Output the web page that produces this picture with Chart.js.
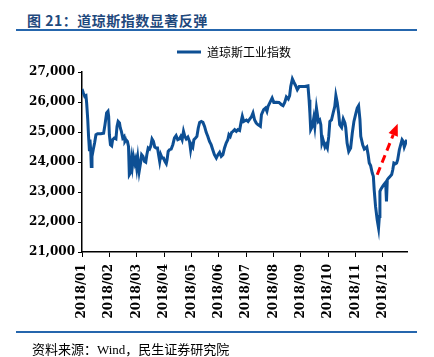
<!DOCTYPE html>
<html><head><meta charset="utf-8">
<script src="https://cdn.jsdelivr.net/npm/chart.js@4.4.1/dist/chart.umd.min.js"></script>
<style>
html,body{margin:0;padding:0;background:#fff;width:434px;height:357px;overflow:hidden;}
#c{position:absolute;left:0;top:0;}
.title{position:absolute;left:27px;top:10px;font:bold 14px "Noto Sans CJK SC",sans-serif;color:#1f497d;letter-spacing:0.5px;white-space:nowrap;}
.rule{position:absolute;left:16px;width:401px;height:2px;background:#2566ad;}
.src{position:absolute;left:32px;top:339px;font:13px "Liberation Serif","Noto Sans CJK SC",serif;color:#000;white-space:nowrap;}
</style></head>
<body>
<div class="title">图 21：道琼斯指数显著反弹</div>
<div class="rule" style="top:29px"></div>
<canvas id="c" width="434" height="357"></canvas>
<div class="rule" style="top:331px"></div>
<div class="src">资料来源：Wind，民生证券研究院</div>
<script>
const seriesName = '道琼斯工业指数';
const monthLabels = ['2018/01','2018/02','2018/03','2018/04','2018/05','2018/06','2018/07','2018/08','2018/09','2018/10','2018/11','2018/12'];
const monthTicks = [0,1,2,3,4,5,6,7,8,9,10,11];
const yTicks = [21000,22000,23000,24000,25000,26000,27000];
const monthPos = [0.00,0.05,0.10,0.145,0.17,0.21,0.24,0.27,0.29,0.32,0.34,0.365,0.41,0.46,0.51,0.57,0.69,0.79,0.84,0.90,0.95,0.975,1.00,1.04,1.085,1.12,1.18,1.24,1.28,1.32,1.37,1.40,1.44,1.49,1.54,1.57,1.61,1.66,1.70,1.73,1.77,1.81,1.84,1.88,1.93,1.96,2.00,2.04,2.09,2.14,2.18,2.23,2.28,2.33,2.37,2.42,2.47,2.51,2.56,2.61,2.66,2.71,2.76,2.81,2.84,2.88,2.93,2.98,3.03,3.08,3.11,3.15,3.20,3.26,3.32,3.38,3.44,3.50,3.56,3.61,3.66,3.71,3.76,3.81,3.87,3.93,3.97,4.00,4.05,4.09,4.15,4.20,4.25,4.30,4.36,4.42,4.48,4.54,4.60,4.66,4.72,4.78,4.84,4.91,4.97,5.03,5.09,5.15,5.21,5.27,5.33,5.37,5.42,5.47,5.52,5.58,5.64,5.70,5.76,5.82,5.86,5.91,6.01,6.07,6.13,6.19,6.25,6.31,6.37,6.43,6.52,6.56,6.64,6.71,6.76,6.80,6.89,6.95,7.01,7.10,7.20,7.29,7.35,7.41,7.47,7.54,7.59,7.63,7.69,7.75,7.81,7.87,7.94,8.02,8.14,8.26,8.30,8.33,8.36,8.42,8.47,8.51,8.57,8.61,8.64,8.69,8.73,8.77,8.81,8.88,8.92,8.97,9.02,9.06,9.12,9.18,9.24,9.28,9.33,9.38,9.42,9.49,9.55,9.61,9.64,9.69,9.75,9.82,9.88,9.94,10.00,10.06,10.11,10.16,10.19,10.26,10.32,10.37,10.41,10.46,10.50,10.55,10.61,10.65,10.68,10.73,10.79,10.84,10.87,10.89,10.93,10.99,11.04,11.10,11.13,11.16,11.21,11.26,11.32,11.36,11.40,11.46,11.50,11.54,11.60,11.65,11.70,11.74,11.78,11.82,11.87];
const dowValues = [26433,26300,26187,26210,25967,25410,24853,24410,24743,24353,23853,24187,24410,24633,24910,24943,24943,24960,25243,25633,25687,25520,24910,24577,24540,24743,24800,24770,25187,25353,25300,25133,25020,24800,24850,24687,24743,24687,24520,23577,23640,24077,23853,24187,23970,24077,23800,24130,23687,23967,24243,24187,24020,23990,24243,24467,24430,24520,24767,24690,24500,24467,24467,24187,24020,24243,24130,24130,24020,23943,24077,24353,24410,24430,24577,24800,24877,24743,24770,24853,24743,25020,24853,24770,24830,24687,24410,24577,24500,24743,24800,24853,25133,25320,25353,25320,25187,24987,24853,24687,24577,24410,24243,24130,24243,24320,24187,24243,24467,24633,24743,24910,24853,24987,25020,25077,25020,25077,25050,25353,25520,25350,25400,25350,25430,25500,25633,25400,25300,25243,25187,25577,25743,25800,25690,25853,26020,26130,25987,25990,25987,25910,25880,25987,26167,26100,26210,26520,26767,26650,26543,26410,26520,26520,26520,26540,26077,25633,25077,25187,25463,25187,25800,25550,25353,25400,25243,24633,24743,24500,24577,24467,24853,25353,25400,25633,25853,26210,25980,25633,25243,25150,25433,25300,25150,24633,24353,24467,24967,25353,25577,25800,25877,25410,24853,24577,24433,24467,24500,24243,23967,23880,23633,23520,23077,22520,22077,21800,22187,23020,23100,23187,23250,23320,22687,23410,23470,23520,23580,23743,23967,23940,23967,24077,24410,24577,24743,24690,24500,24600,24743];
const arrowFrom = [10.79, 23577];
const arrowTo = [11.54, 25277];

const BLUE = '#0d4f94';
const points = monthPos.map((m,i)=>({x:m,y:dowValues[i]}));

const arrowPlugin = {
  id:'arrow',
  afterDatasetsDraw(chart){
    const {ctx, scales:{x,y}} = chart;
    const x0=x.getPixelForValue(arrowFrom[0]), y0=y.getPixelForValue(arrowFrom[1]);
    const x1=x.getPixelForValue(arrowTo[0]), y1=y.getPixelForValue(arrowTo[1]);
    const ang=Math.atan2(y1-y0,x1-x0);
    const headLen=12, headW=5;
    const bx=x1-Math.cos(ang)*headLen, by=y1-Math.sin(ang)*headLen;
    ctx.save();
    ctx.strokeStyle='#ff0000';ctx.fillStyle='#ff0000';
    ctx.lineWidth=3;ctx.setLineDash([8,5]);
    ctx.beginPath();ctx.moveTo(x0,y0);ctx.lineTo(bx,by);ctx.stroke();
    ctx.setLineDash([]);
    ctx.beginPath();
    ctx.moveTo(x1,y1);
    ctx.lineTo(bx+Math.sin(ang)*headW, by-Math.cos(ang)*headW);
    ctx.lineTo(bx-Math.sin(ang)*headW, by+Math.cos(ang)*headW);
    ctx.closePath();ctx.fill();
    ctx.restore();
  }
};
const legendShift = {
  id:'legendShift',
  afterLayout(chart){
    const lg=chart.legend; if(!lg) return;
    const target=234; const cur=(lg.left+lg.right)/2; const d=target-cur;
    lg.left+=d; lg.right+=d;
    lg.top-=4; lg.bottom-=4;
  }
};

new Chart(document.getElementById('c'),{
  type:'line',
  data:{datasets:[{label:seriesName,data:points,borderColor:BLUE,backgroundColor:BLUE,borderWidth:3,pointRadius:0,tension:0,fill:false}]},
  options:{
    responsive:false,animation:false,
    layout:{padding:{left:0,right:27,top:32,bottom:0}},
    plugins:{
      legend:{display:true,position:'top',labels:{font:{family:'"Noto Sans CJK SC", sans-serif',size:12},color:'#000',boxWidth:24,boxHeight:3,padding:18,
        generateLabels(chart){const l=Chart.defaults.plugins.legend.labels.generateLabels(chart);l.forEach(i=>{i.lineWidth=0;i.fillStyle=BLUE;});return l;}}},
      tooltip:{enabled:false}
    },
    scales:{
      x:{type:'linear',min:0,max:11.88,
        afterBuildTicks(s){s.ticks=monthTicks.map(v=>({value:v}));},
        afterFit(s){s.height=105;},
        ticks:{autoSkip:false,maxRotation:90,minRotation:90,padding:7,color:'#000',font:{family:'"DejaVu Serif", serif',weight:'bold',size:12},callback:(v)=>monthLabels[v]},
        grid:{drawOnChartArea:false,drawTicks:true,tickLength:5,tickColor:'#000',tickWidth:1},
        border:{display:true,color:'#000',width:1.5}
      },
      y:{type:'linear',min:21000,max:27000,
        afterBuildTicks(s){s.ticks=yTicks.map(v=>({value:v}));},
        afterFit(s){s.width=82;},
        ticks:{padding:3,color:'#000',font:{family:'"DejaVu Serif", serif',weight:'bold',size:12},callback:(v)=>v.toLocaleString('en-US')},
        grid:{drawOnChartArea:false,drawTicks:true,tickLength:4,tickColor:'#000',tickWidth:1},
        border:{display:true,color:'#000',width:1.5}
      }
    }
  },
  plugins:[legendShift,arrowPlugin]
});
</script>
</body></html>
